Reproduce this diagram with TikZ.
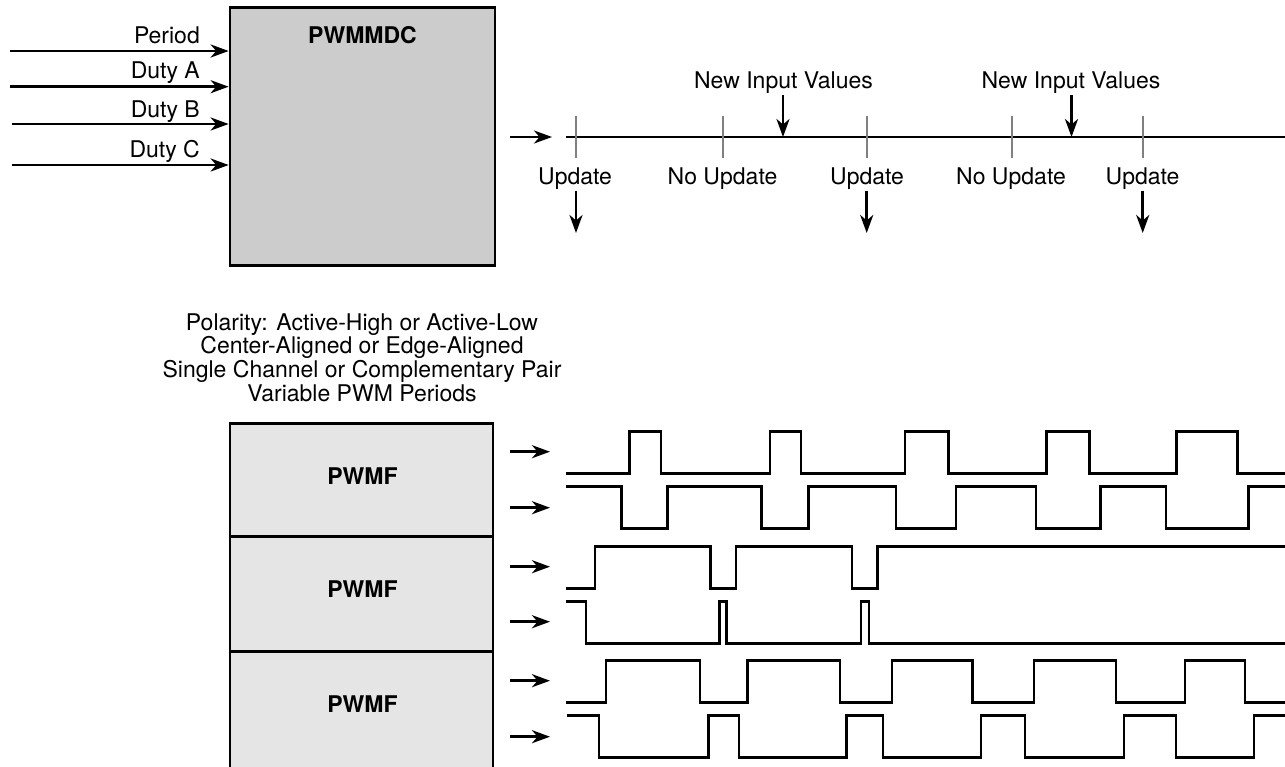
\documentclass[tikz,border=0pt]{standalone}
\usepackage{fontspec}
\setmainfont{TeX Gyre Heros}
\usetikzlibrary{arrows.meta}
\definecolor{boxdark}{gray}{0.80}
\definecolor{boxlight}{gray}{0.90}
\definecolor{tickgray}{gray}{0.50}
\begin{document}
\begin{tikzpicture}[x=1pt,y=-1pt,
  ln/.style={line width=2.7pt},
  arr/.style={ln,-{Stealth[length=18pt,width=13pt,inset=5.5pt]}},
  txt/.style={inner sep=0pt,font=\fontsize{23}{24}\selectfont},
  btxt/.style={inner sep=0pt,font=\fontsize{23}{24}\selectfont\bfseries},
  mdcbox/.style={draw,line width=2.7pt,fill=boxdark,minimum width=265pt,minimum height=258.4pt,inner sep=0pt},
  pwmfbox/.style={draw,line width=2.7pt,fill=boxlight,minimum width=263pt,inner sep=0pt},
  tickline/.style={draw=tickgray,line width=2pt},
  wave/.style={line width=2.8pt}]
\useasboundingbox (0,0) rectangle (1285,766);

% ---------- PWMMDC block ----------
\node[mdcbox] (mdc) at (362.5,136.5) {};
\node[btxt,anchor=base] (mdct) at (362.5,43.3) {PWMMDC};

\coordinate (in1) at (10,51);
\coordinate (in2) at (10,86.7);
\coordinate (in3) at (12,124);
\coordinate (in4) at (12,165);
\draw[arr] (in1) -- (in1 -| mdc.west);
\draw[arr] (in2) -- (in2 -| mdc.west);
\draw[arr] (in3) -- (in3 -| mdc.west);
\draw[arr] (in4) -- (in4 -| mdc.west);
\node[txt,anchor=base east] (lper) at (200,43.3) {Period};
\node[txt,anchor=base east] (lda) at (200,78.3) {Duty A};
\node[txt,anchor=base east] (ldb) at (200,117) {Duty B};
\node[txt,anchor=base east] (ldc) at (200,157) {Duty C};

% ---------- Timeline ----------
\coordinate (ta0) at (510,137);
\coordinate (ta1) at (552,137);
\draw[arr] (ta0) -- (ta1);
\coordinate (tl0) at (566,137);
\coordinate (tl1) at (1285,137);
\draw[ln] (tl0) -- (tl1);
\foreach \x in {576,722.7,866.7,1011.7,1142.7}{
  \draw[tickline] (\x,116) -- (\x,158);
}
\coordinate (nv1) at (783,95);
\coordinate (nv2) at (1071.5,95);
\draw[arr] (nv1) -- (nv1 |- tl0);
\draw[arr] (nv2) -- (nv2 |- tl0);
\node[txt,anchor=base] (niv1) at (783.5,88.3) {New Input Values};
\node[txt,anchor=base] (niv2) at (1071,88.3) {New Input Values};

\node[txt,anchor=base] (up1) at (575,184) {Update};
\node[txt,anchor=base] (nup1) at (722.5,184) {No Update};
\node[txt,anchor=base] (up2) at (867,184) {Update};
\node[txt,anchor=base] (nup2) at (1011,184) {No Update};
\node[txt,anchor=base] (up3) at (1142.5,184) {Update};

\coordinate (ua1) at (576,190.7);
\coordinate (ub1) at (576,233);
\coordinate (ua2) at (866.7,190.7);
\coordinate (ub2) at (866.7,233);
\coordinate (ua3) at (1142.7,190.7);
\coordinate (ub3) at (1142.7,233);
\draw[arr] (ua1) -- (ub1);
\draw[arr] (ua2) -- (ub2);
\draw[arr] (ua3) -- (ub3);

% ---------- Feature text ----------
\node[txt,anchor=base] (pol1) at (362,330) {Polarity: Active-High or Active-Low};
\node[txt,anchor=base] (pol2) at (362,353.9) {Center-Aligned or Edge-Aligned};
\node[txt,anchor=base] (pol3) at (362,377.8) {Single Channel or Complementary Pair};
\node[txt,anchor=base] (pol4) at (362,401.7) {Variable PWM Periods};

% ---------- PWMF blocks ----------
\node[pwmfbox,minimum height=113.4pt] (f1) at (361.5,480) {};
\node[pwmfbox,minimum height=115pt] (f2) at (361.5,594.2) {};
\node[pwmfbox,minimum height=118pt] (f3) at (361.5,710.7) {};
\node[btxt,anchor=base] (f1t) at (362.5,484.5) {PWMF};
\node[btxt,anchor=base] (f2t) at (362.5,597.8) {PWMF};
\node[btxt,anchor=base] (f3t) at (362.5,712.7) {PWMF};

\foreach \y [count=\i] in {451.7,507.7,566.7,621.7,680.7,736.7}{
  \coordinate (oa\i) at (510,\y);
  \coordinate (ob\i) at (550,\y);
  \draw[arr] (oa\i) -- (ob\i);
}

% ---------- Waveforms ----------
\draw[wave] (566,473.3) -| (629.3,431.7) -| (661,473.3) -| (770,431.7) -| (801,473.3)
  -| (905,431.7) -| (948.3,473.3) -| (1046.7,431.7) -| (1089.3,473.3)
  -| (1176.7,431.7) -| (1237.3,473.3) -- (1285,473.3);
\draw[wave] (566,486.7) -| (621.7,528.3) -| (667.7,486.7) -| (761.7,528.3) -| (808.3,486.7)
  -| (896,528.3) -| (956,486.7) -| (1036,528.3) -| (1100.7,486.7)
  -| (1166,528.3) -| (1248.3,486.7) -- (1285,486.7);
\draw[wave] (566,588.3) -| (595,546.7) -| (710.7,588.3) -| (736,546.7) -| (852,588.3)
  -| (877.3,546.7) -- (1285,546.7);
\draw[wave] (566,601.7) -| (586,643.3) -| (719.3,601.7) -| (726.7,643.3) -| (861,601.7)
  -| (869,643.3) -- (1285,643.3);
\draw[wave] (566,702.7) -| (606,660.7) -| (700,702.7) -| (747.3,660.7) -| (840,702.7)
  -| (892,660.7) -| (972.7,702.7) -| (1034,660.7) -| (1116,702.7)
  -| (1185,660.7) -| (1245,702.7) -- (1285,702.7);
\draw[wave] (567,715.7) -| (599,757.7) -| (708.3,715.7) -| (739,757.7) -| (846.7,715.7)
  -| (883,757.7) -| (981,715.7) -| (1025,757.7) -| (1124,715.7)
  -| (1176,757.7) -| (1254,715.7) -- (1285,715.7);
\end{tikzpicture}
\end{document}
